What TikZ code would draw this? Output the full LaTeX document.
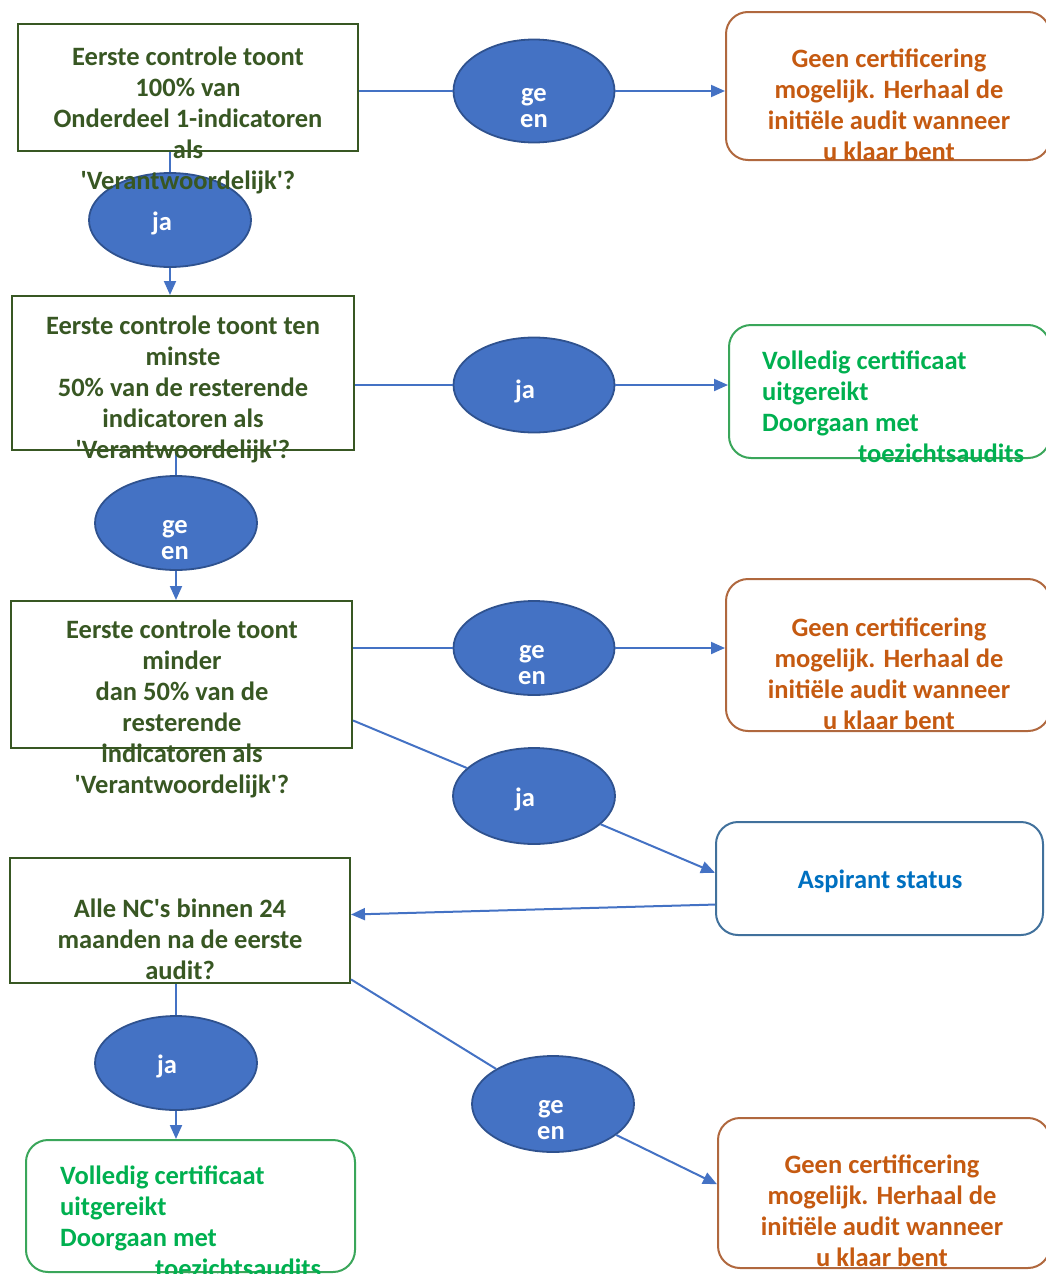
\documentclass[tikz,border=0pt]{standalone}
\usepackage{fontspec}
\setmainfont{Carlito}
\usetikzlibrary{arrows.meta,shapes.geometric,positioning}
\definecolor{qtext}{RGB}{56,87,35}
\definecolor{qline}{RGB}{56,87,35}
\definecolor{efill}{RGB}{68,114,196}
\definecolor{eline}{RGB}{47,82,143}
\definecolor{notext}{RGB}{197,90,17}
\definecolor{noline}{RGB}{176,104,62}
\definecolor{oktext}{RGB}{0,176,80}
\definecolor{okline}{RGB}{58,166,90}
\definecolor{asptext}{RGB}{0,112,192}
\definecolor{aspline}{RGB}{65,113,156}
\begin{document}
\begin{tikzpicture}[x=1pt,y=-1pt]
        \tikzstyle{every node}+=[inner sep=0pt,font=\bfseries\fontsize{26.5}{31}\selectfont]
        \tikzstyle{qbox}=[draw=qline,line width=2pt,rectangle]
        \tikzstyle{qlabel}=[text=qtext,align=center]
        \tikzstyle{answer}=[ellipse,fill=efill,draw=eline,line width=1.8pt]
        \tikzstyle{answerlabel}=[text=white,align=center,font=\bfseries\fontsize{26.5}{26}\selectfont]
        \tikzstyle{endbox}=[rectangle,rounded corners=22pt,line width=2pt]
        \tikzstyle{flow}=[draw=efill,line width=2pt]
        \tikzstyle{flowarrow}=[flow,-{Triangle[length=14pt,width=12pt]}]
        \useasboundingbox (0,0) rectangle (1045,1274);
        \node [qbox,minimum width=340pt,minimum height=127pt] (b1) at (188,87.5) {};
        \node [qbox,minimum width=342pt,minimum height=154pt] (b2) at (183,373) {};
        \node [qbox,minimum width=341pt,minimum height=147pt] (b3) at (181.5,674.5) {};
        \node [qbox,minimum width=340pt,minimum height=125pt] (b4) at (180,920.5) {};
        \node [endbox,draw=noline,minimum width=324pt,minimum height=148pt] (r1) at (888,86) {};
        \node [endbox,draw=okline,minimum width=321pt,minimum height=133pt] (r2) at (889.5,391.5) {};
        \node [endbox,draw=noline,minimum width=324pt,minimum height=152pt] (r3) at (888,655) {};
        \node [endbox,draw=aspline,minimum width=327pt,minimum height=113pt] (asp) at (879.5,878.5) {};
        \node [endbox,draw=okline,minimum width=329pt,minimum height=132pt] (r4) at (190.5,1206) {};
        \node [endbox,draw=noline,minimum width=332pt,minimum height=150pt] (r5) at (884,1193) {};
        \node [answer,minimum width=161pt,minimum height=103pt] (g1) at (534,91) {};
        \node [answer,minimum width=162pt,minimum height=94pt] (j1) at (170,220) {};
        \node [answer,minimum width=161pt,minimum height=95pt] (j2) at (534,385) {};
        \node [answer,minimum width=162pt,minimum height=94pt] (g2) at (176,523) {};
        \node [answer,minimum width=161pt,minimum height=94pt] (g3) at (534,648) {};
        \node [answer,minimum width=162pt,minimum height=96pt] (j3) at (534,796) {};
        \node [answer,minimum width=162pt,minimum height=94pt] (j4) at (176,1063) {};
        \node [answer,minimum width=162pt,minimum height=96pt] (g4) at (553,1104) {};
        \draw [flow] (g1.west -| b1.east) -- (g1.west);
        \draw [flowarrow] (g1.east) -- (g1.east -| r1.west);
        \draw [flow] (b1.south -| j1.north) -- (j1.north);
        \draw [flowarrow] (j1.south) -- (j1.south |- b2.north);
        \draw [flow] (j2.west -| b2.east) -- (j2.west);
        \draw [flowarrow] (j2.east) -- (j2.east -| r2.west);
        \draw [flow] (b2.south -| g2.north) -- (g2.north);
        \draw [flowarrow] (g2.south) -- (g2.south |- b3.north);
        \draw [flow] (g3.west -| b3.east) -- (g3.west);
        \draw [flowarrow] (g3.east) -- (g3.east -| r3.west);
        \draw [flow] (b3.-15) -- (j3);
        \draw [flowarrow] (j3) -- (asp.178);
        \draw [flowarrow] (asp.189) -- (b4.2);
        \draw [flow] (b4.south -| j4.north) -- (j4.north);
        \draw [flowarrow] (j4.south) -- (j4.south |- r4.north);
        \draw [flow] (b4.-19) -- (g4);
        \draw [flowarrow] (g4) -- (r5.177);
        \node [answerlabel] (g1t) at (534,108) {ge\\en};
        \node [answerlabel] (j1t) at (162,223) {ja};
        \node [answerlabel] (j2t) at (525,391) {ja};
        \node [answerlabel] (g2t) at (175,540) {ge\\en};
        \node [answerlabel] (g3t) at (532,665) {ge\\en};
        \node [answerlabel] (j3t) at (525,799) {ja};
        \node [answerlabel] (j4t) at (167,1066) {ja};
        \node [answerlabel] (g4t) at (551,1120) {ge\\en};
        \node [qlabel] (b1t) at (188,120) {Eerste controle toont\\100\% van\\Onderdeel 1-indicatoren\\als\\\textquotesingle Verantwoordelijk\textquotesingle?};
        \node [qlabel] (b2t) at (183,389.5) {Eerste controle toont ten\\minste\\50\% van de resterende\\indicatoren als\\\textquotesingle Verantwoordelijk\textquotesingle?};
        \node [qlabel] (b3t) at (182,709) {Eerste controle toont\\minder\\dan 50\% van de\\resterende\\indicatoren als\\\textquotesingle Verantwoordelijk\textquotesingle?};
        \node [qlabel] (b4t) at (180,939) {Alle NC\textquotesingle s binnen 24\\maanden na de eerste\\audit?};
        \node [text=notext,align=center] (r1t) at (889,105) {Geen certificering\\mogelijk. Herhaal de\\initiële audit wanneer\\u klaar bent};
        \node [text=oktext,align=left,anchor=west] (r2t) at (762,406.5) {Volledig certificaat\\uitgereikt\\Doorgaan met\\\hspace*{96pt}toezichtsaudits};
        \node [text=notext,align=center] (r3t) at (889,673.5) {Geen certificering\\mogelijk. Herhaal de\\initiële audit wanneer\\u klaar bent};
        \node [text=asptext] (aspt) at (880,881) {Aspirant status};
        \node [text=oktext,align=left,anchor=west] (r4t) at (60,1222) {Volledig certificaat\\uitgereikt\\Doorgaan met\\\hspace*{95pt}toezichtsaudits};
        \node [text=notext,align=center] (r5t) at (882,1211) {Geen certificering\\mogelijk. Herhaal de\\initiële audit wanneer\\u klaar bent};
    \end{tikzpicture}
\end{document}
